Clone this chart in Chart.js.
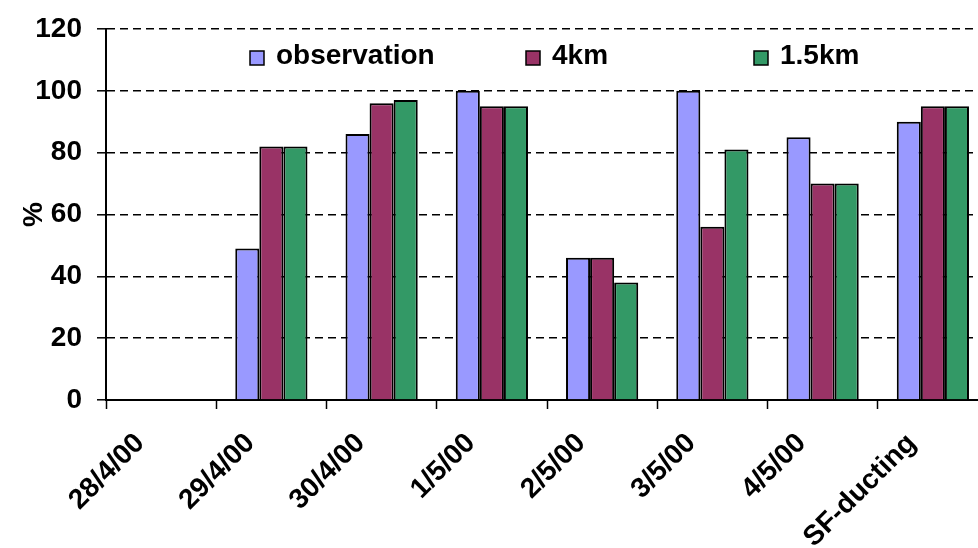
<!DOCTYPE html>
<html>
<head>
<meta charset="utf-8">
<script src="https://cdn.jsdelivr.net/npm/chart.js@4/dist/chart.umd.min.js"></script>
<style>
  html, body { margin: 0; padding: 0; background: #fff; overflow: hidden; }
  #wrap { width: 1000px; height: 548px; }
</style>
</head>
<body>
<div id="wrap"><canvas id="c" width="1000" height="548"></canvas></div>
<script>
// Categories and series values (percent)
const categories = ['28/4/00', '29/4/00', '30/4/00', '1/5/00', '2/5/00', '3/5/00', '4/5/00', 'SF-ducting'];
const observation = [null, 49, 86, 100, 46, 100, 85, 90];
const km4 = [null, 82, 96, 95, 46, 56, 70, 95];
const km15 = [null, 82, 97, 95, 38, 81, 70, 95];
const seriesNames = ['observation', '4km', '1.5km'];
const yTickValues = [0, 20, 40, 60, 80, 100, 120];

const FONT = "'Liberation Sans', Arial, sans-serif";
const colors = ['#9999FF', '#993366', '#339966'];

// Legend drawn inside the plot area, one entry per dataset
const insideLegend = {
  id: 'insideLegend',
  afterDatasetsDraw(chart) {
    const ctx = chart.ctx;
    const xs = [250, 526, 754];
    const y = 57;
    ctx.save();
    ctx.font = 'bold 28px ' + FONT;
    ctx.textBaseline = 'middle';
    ctx.textAlign = 'left';
    chart.data.datasets.forEach((ds, i) => {
      const x = xs[i];
      ctx.fillStyle = ds.backgroundColor;
      ctx.fillRect(x, y - 6, 14, 14);
      ctx.lineWidth = 1.5;
      ctx.strokeStyle = '#000';
      ctx.strokeRect(x, y - 6, 14, 14);
      ctx.fillStyle = '#000';
      ctx.fillText(ds.label, x + 26, y - 1);
    });
    ctx.restore();
  }
};

new Chart(document.getElementById('c'), {
  type: 'bar',
  data: {
    labels: categories,
    datasets: [
      { label: seriesNames[0], data: observation, backgroundColor: colors[0] },
      { label: seriesNames[1], data: km4, backgroundColor: colors[1] },
      { label: seriesNames[2], data: km15, backgroundColor: colors[2] }
    ]
  },
  options: {
    responsive: false,
    animation: false,
    layout: { padding: { left: 0, right: 12, top: 29, bottom: 0 } },
    datasets: {
      bar: {
        categoryPercentage: 0.655,
        barPercentage: 1.0,
        borderColor: '#000',
        borderWidth: 2
      }
    },
    plugins: {
      legend: { display: false },
      tooltip: { enabled: false }
    },
    scales: {
      x: {
        offset: true,
        grid: {
          offset: true,
          drawOnChartArea: false,
          drawTicks: true,
          tickLength: 9,
          tickColor: '#000',
          tickWidth: 1.5,
          tickBorderDash: []
        },
        border: { display: true, color: '#000', width: 2 },
        ticks: {
          autoSkip: false,
          minRotation: 45,
          maxRotation: 45,
          labelOffset: -21,
          padding: 18,
          color: '#000',
          font: { family: FONT, size: 28, weight: 'bold' }
        },
        afterFit(scale) {
          scale.height = 148;
          scale.paddingTop = 0;
        }
      },
      y: {
        min: 0,
        max: 120,
        afterBuildTicks(scale) { scale.ticks = yTickValues.map(v => ({ value: v })); },
        grid: {
          color: '#000',
          lineWidth: 1.6,
          drawTicks: true,
          tickLength: 9,
          tickColor: '#000',
          tickWidth: 1.5,
          tickBorderDash: []
        },
        border: { display: true, color: '#000', width: 2, dash: [8, 5] },
        ticks: {
          padding: 15,
          color: '#000',
          font: { family: FONT, size: 28, weight: 'bold' }
        },
        title: {
          display: true,
          text: '%',
          color: '#000',
          font: { family: FONT, size: 28, weight: 'bold' },
          padding: { top: 17, bottom: 0 }
        },
        afterFit(scale) {
          scale.width = 106;
          scale.paddingTop = 0;
        }
      }
    }
  },
  plugins: [insideLegend]
});
</script>
</body>
</html>
